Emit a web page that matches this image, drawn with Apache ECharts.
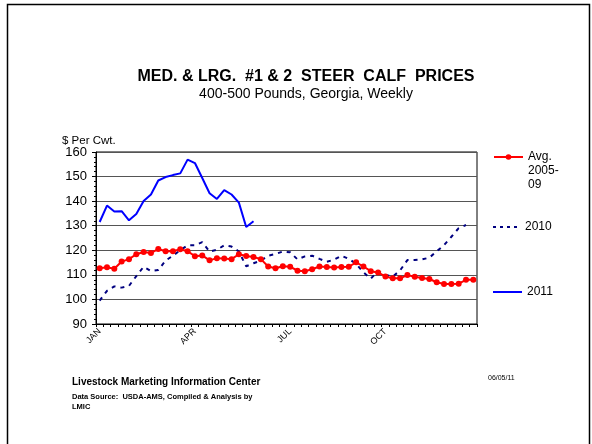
<!DOCTYPE html>
<html>
<head>
<meta charset="utf-8">
<script src="https://cdn.jsdelivr.net/npm/echarts@6/dist/echarts.min.js"></script>
<style>
  html, body { margin: 0; padding: 0; background: #fff; }
  #chart { width: 592px; height: 444px; }
</style>
</head>
<body>
<div id="chart"></div>
<script>
// 52 weeks, only quarter starts get a label
const weekLabels = [];
for (let i = 0; i < 52; i++) weekLabels.push("W" + (i + 1));
const monthTicks = { 0: "JAN", 13: "APR", 26: "JUL", 39: "OCT" };

const avg0509 = [
  112.7, 113.1, 112.5, 115.4, 116.4, 118.4, 119.3, 118.9, 120.5, 119.6,
  119.6, 120.4, 119.6, 117.6, 117.9, 115.9, 116.8, 116.7, 116.4, 118.4,
  117.7, 117.3, 116.4, 113.4, 112.7, 113.5, 113.3, 111.7, 111.5, 112.3,
  113.4, 113.2, 113.0, 113.2, 113.3, 115.1, 113.4, 111.5, 111.0, 109.3,
  108.6, 108.6, 109.9, 109.2, 108.7, 108.3, 107.0, 106.3, 106.3, 106.4,
  108.0, 108.0
];

const y2010 = [
  99.5, 103.5, 105.3, 104.8, 105.5, 109.5, 113.3, 111.6, 112.0, 115.8,
  117.8, 120.0, 122.0, 122.0, 123.3, 119.5, 120.2, 122.0, 121.5, 119.5,
  113.5, 114.7, 115.8, 117.8, 118.5, 119.5, 119.2, 116.3, 117.5, 117.8,
  116.5, 115.3, 116.2, 117.8, 116.5, 114.5, 111.0, 108.5, 111.5, 110.0,
  109.3, 111.8, 116.0, 116.0, 116.3, 117.0, 119.6, 122.1, 125.5, 129.0,
  130.3, null
];

const y2011 = [
  131.5, 138.2, 135.8, 135.9, 132.2, 134.8, 140.1, 142.7, 148.4, 149.8,
  150.6, 151.3, 156.9, 155.5, 149.4, 143.2, 140.9, 144.5, 142.7, 139.4,
  129.5, 131.8
];

const chart = echarts.init(document.getElementById("chart"));

const font = "Liberation Sans, Arial, sans-serif";
const dashIcon = "path://M0,0h3v2h-3z M7,0h3v2h-3z M14,0h3v2h-3z M21,0h3v2h-3z";

const option = {
  animation: false,
  title: [
    {
      text: "MED. & LRG.  #1 & 2  STEER  CALF  PRICES",
      left: 306, top: 69, textAlign: "center", padding: 0,
      textStyle: { fontFamily: font, fontSize: 16, fontWeight: "bold", color: "#000" }
    },
    {
      text: "400-500 Pounds, Georgia, Weekly",
      left: 306, top: 87, textAlign: "center", padding: 0,
      textStyle: { fontFamily: font, fontSize: 14, fontWeight: "normal", color: "#000" }
    },
    {
      text: "$ Per Cwt.",
      left: 62, top: 135, padding: 0,
      textStyle: { fontFamily: font, fontSize: 11.5, fontWeight: "normal", color: "#000" }
    },
    {
      text: "Livestock Marketing Information Center",
      left: 72, top: 377, padding: 0,
      textStyle: { fontFamily: font, fontSize: 10, fontWeight: "bold", color: "#000" }
    },
    {
      text: "Data Source:  USDA-AMS, Compiled & Analysis by\nLMIC",
      left: 72, top: 392, padding: 0,
      textStyle: { fontFamily: font, fontSize: 7.5, fontWeight: "bold", color: "#000", lineHeight: 10 }
    },
    {
      text: "06/05/11",
      left: 488, top: 375, padding: 0,
      textStyle: { fontFamily: font, fontSize: 7, fontWeight: "normal", color: "#000" }
    }
  ],
  legend: [
    {
      data: ["Avg. 2005-09"],
      left: 493, top: 122, padding: 0,
      itemWidth: 29, itemHeight: 7, itemGap: 0,
      formatter: () => "\n\nAvg.\n2005-\n09",
      textStyle: { fontFamily: font, fontSize: 12, color: "#000", lineHeight: 14 }
    },
    {
      data: [{ name: "2010", icon: dashIcon }],
      left: 493, top: 221, padding: 0,
      itemWidth: 24, itemHeight: 2,
      textStyle: { fontFamily: font, fontSize: 12, color: "#000", padding: [0, 0, 0, 3] }
    },
    {
      data: [{ name: "2011", icon: "rect" }],
      left: 493, top: 286, padding: 0,
      itemWidth: 29, itemHeight: 2,
      textStyle: { fontFamily: font, fontSize: 12, color: "#000" }
    }
  ],
  grid: {
    left: 96, right: 115, top: 152, bottom: 120,
    show: true, borderColor: "#000", borderWidth: 1, backgroundColor: "transparent"
  },
  xAxis: {
    type: "category",
    data: weekLabels,
    boundaryGap: true,
    axisLine: { lineStyle: { color: "#000", width: 1 } },
    axisTick: { show: true, interval: 0, length: 3, lineStyle: { color: "#000" } },
    axisLabel: {
      interval: 0,
      rotate: 45,
      margin: 6,
      fontFamily: font,
      fontSize: 9,
      color: "#000",
      formatter: (v, idx) => monthTicks[idx] || ""
    },
    splitLine: { show: false }
  },
  yAxis: {
    type: "value",
    min: 90, max: 160, interval: 10,
    axisLine: { show: true, lineStyle: { color: "#000" } },
    axisTick: { show: true, length: 4, lineStyle: { color: "#000" } },
    minorTick: { show: true, splitNumber: 5, length: 2, lineStyle: { color: "#000" } },
    axisLabel: { fontFamily: font, fontSize: 13, color: "#000", margin: 9 },
    splitLine: { show: true, lineStyle: { color: "#555", width: 1 } }
  },
  series: [
    {
      name: "Avg. 2005-09",
      type: "line",
      data: avg0509,
      symbol: "circle",
      symbolSize: 6,
      itemStyle: { color: "#ff0000" },
      lineStyle: { color: "#ff0000", width: 2 },
      z: 3
    },
    {
      name: "2010",
      type: "line",
      data: y2010,
      symbol: "none",
      itemStyle: { color: "#000080" },
      lineStyle: { color: "#000080", width: 2, type: [4, 5] },
      z: 2
    },
    {
      name: "2011",
      type: "line",
      data: y2011,
      symbol: "none",
      itemStyle: { color: "#0000ff" },
      lineStyle: { color: "#0000ff", width: 2 },
      z: 4
    }
  ],
  graphic: [
    {
      type: "rect",
      shape: { x: 7.5, y: 4.5, width: 582, height: 460 },
      style: { fill: "none", stroke: "#000", lineWidth: 1.5 },
      silent: true
    }
  ]
};

chart.setOption(option);
</script>
</body>
</html>
